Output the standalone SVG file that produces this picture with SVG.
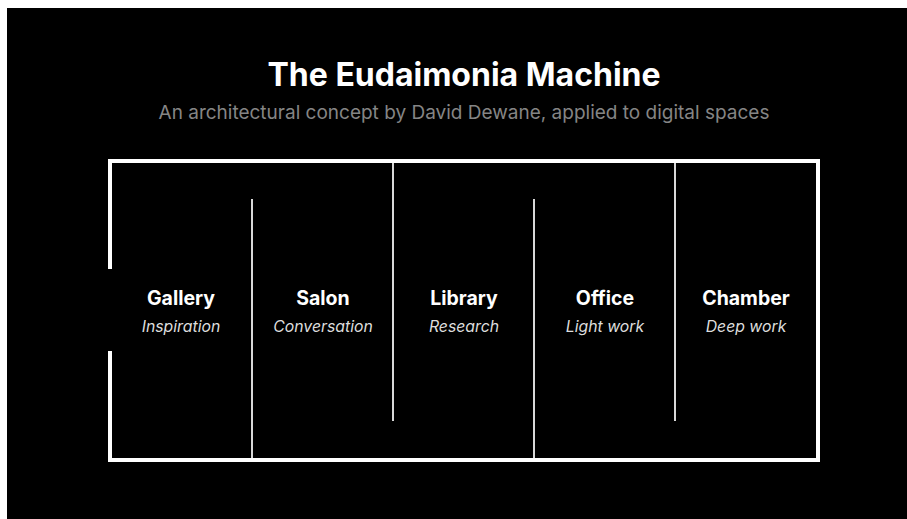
<svg xmlns="http://www.w3.org/2000/svg" width="907" height="519" viewBox="0 0 907 519">
  <style>
    .title { font-family: Inter, "Liberation Sans", sans-serif; font-weight: 700; font-size: 32px; fill: #ffffff; }
    .sub { font-family: Inter, "Liberation Sans", sans-serif; font-size: 19px; fill: #858585; }
    .room { font-family: Inter, "Liberation Sans", sans-serif; font-weight: 700; font-size: 19.5px; fill: #ffffff; text-anchor: middle; }
    .use { font-family: Inter, "Liberation Sans", sans-serif; font-style: italic; font-size: 15.8px; fill: #dddddd; text-anchor: middle; }
    .outer { fill: none; stroke: #ffffff; stroke-width: 4; stroke-linecap: square; }
    .wall { stroke: #d8d8d8; stroke-width: 2; }
  </style>
  <rect x="0" y="0" width="907" height="519" fill="#ffffff"/>
  <rect x="7" y="8" width="900" height="511" fill="#000000"/>

  <text class="title" x="464" y="86" text-anchor="middle">The Eudaimonia Machine</text>
  <text class="sub" x="464" y="119" text-anchor="middle">An architectural concept by David Dewane, applied to digital spaces</text>

  <!-- building outline with entrance gap on the left -->
  <g id="building">
    <path class="outer" d="M110 267 V161 H818 V460 H110 V353"/>
  </g>

  <!-- interior walls -->
  <g id="walls">
    <line class="wall" x1="252" y1="199" x2="252" y2="458"/>
    <line class="wall" x1="393" y1="163" x2="393" y2="421"/>
    <line class="wall" x1="534" y1="199" x2="534" y2="458"/>
    <line class="wall" x1="675" y1="163" x2="675" y2="421"/>
  </g>

  <g id="gallery">
    <text class="room" x="181" y="305">Gallery</text>
    <text class="use" x="181" y="332">Inspiration</text>
  </g>
  <g id="salon">
    <text class="room" x="323" y="305">Salon</text>
    <text class="use" x="323" y="332">Conversation</text>
  </g>
  <g id="library">
    <text class="room" x="464" y="305">Library</text>
    <text class="use" x="464" y="332">Research</text>
  </g>
  <g id="office">
    <text class="room" x="605" y="305">Office</text>
    <text class="use" x="605" y="332">Light work</text>
  </g>
  <g id="chamber">
    <text class="room" x="746" y="305">Chamber</text>
    <text class="use" x="746" y="332">Deep work</text>
  </g>
</svg>
